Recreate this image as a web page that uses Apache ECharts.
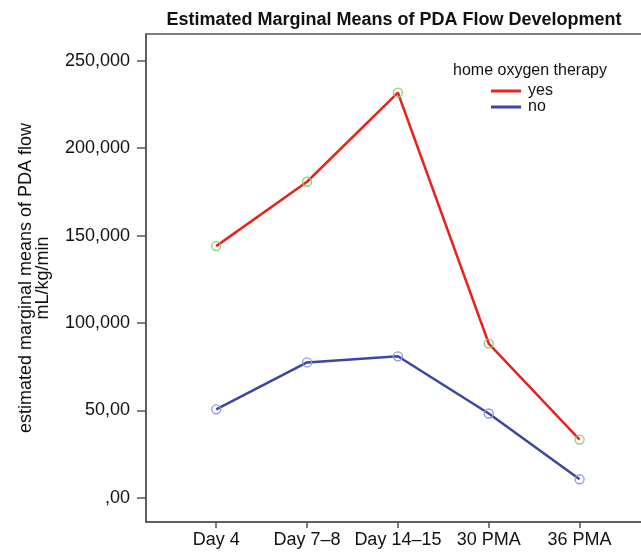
<!DOCTYPE html>
<html>
<head>
<meta charset="utf-8">
<script src="https://cdn.jsdelivr.net/npm/echarts@6/dist/echarts.min.js"></script>
<style>
  html, body { margin: 0; padding: 0; background: #fff; }
  #chart { width: 641px; height: 556px; }
</style>
</head>
<body>
<div id="chart"></div>
<script>
// categories along x (placed at 0..4)
const categories = ['Day 4', 'Day 7\u20138', 'Day 14\u201315', '30 PMA', '36 PMA']
// estimated marginal means
const yesValues = [144000, 180800, 231700, 88300, 33400]
const noValues = [50700, 77500, 81000, 48300, 10700]
// y tick values and their labels as printed
const yTickValues = [0, 50000, 100000, 150000, 200000, 250000]
const yTickLabels = [',00', '50,00', '100,000', '150,000', '200,000', '250,000']

const yesColor = '#e8231d'
const noColor = '#3a46a0'
const axisColor = '#555'

const toPoints = arr => arr.map((v, i) => [i, v])

const chart = echarts.init(document.getElementById('chart'))

const option = {
  animation: false,
  textStyle: { fontFamily: 'Liberation Sans, Arial, sans-serif' },
  title: [
    {
      text: 'Estimated Marginal Means of PDA Flow Development',
      left: 394,
      textAlign: 'center',
      top: 11,
      padding: 0,
      textStyle: { fontSize: 18, fontWeight: 'bold', color: '#111' }
    },
    {
      text: 'home oxygen therapy',
      left: 530,
      textAlign: 'center',
      top: 63,
      padding: 0,
      textStyle: { fontSize: 16, fontWeight: 'normal', color: '#111' }
    }
  ],
  legend: {
    orient: 'vertical',
    left: 491,
    top: 83,
    padding: 0,
    itemWidth: 30,
    itemHeight: 3,
    itemGap: 0,
    icon: 'rect',
    textStyle: { fontSize: 16, color: '#111', lineHeight: 16, padding: [0, 0, 0, 2] },
    data: [
      { name: 'yes', itemStyle: { color: yesColor, borderWidth: 0 } },
      { name: 'no', itemStyle: { color: noColor, borderWidth: 0 } }
    ]
  },
  grid: {
    left: 146,
    top: 34,
    bottom: 34,
    right: -4,
    outerBoundsMode: 'none',
    show: true,
    borderColor: axisColor,
    borderWidth: 1.5
  },
  xAxis: {
    type: 'value',
    min: -0.773,
    max: 4.72,
    splitLine: { show: false },
    axisLine: { show: true, onZero: false, lineStyle: { color: axisColor, width: 1.5 } },
    axisTick: {
      customValues: [0, 1, 2, 3, 4],
      length: 6,
      lineStyle: { color: axisColor, width: 1.5 }
    },
    axisLabel: {
      customValues: [0, 1, 2, 3, 4],
      formatter: v => categories[Math.round(v)],
      fontSize: 18,
      color: '#111',
      margin: 9
    }
  },
  yAxis: {
    type: 'value',
    min: -13730,
    max: 265270,
    name: 'estimated marginal means of PDA flow\nmL/kg/min',
    nameLocation: 'middle',
    nameGap: 94,
    nameTextStyle: { fontSize: 18, color: '#111', lineHeight: 17 },
    splitLine: { show: false },
    axisLine: { show: true, onZero: false, lineStyle: { color: axisColor, width: 1.5 } },
    axisTick: {
      customValues: yTickValues,
      length: 9,
      lineStyle: { color: axisColor, width: 1.5 }
    },
    axisLabel: {
      customValues: yTickValues,
      formatter: v => yTickLabels[yTickValues.indexOf(v)],
      fontSize: 18,
      color: '#111',
      margin: 16
    }
  },
  series: [
    {
      name: 'yes',
      type: 'line',
      data: toPoints(yesValues),
      color: yesColor,
      lineStyle: { color: yesColor, width: 2.5 },
      symbol: 'circle',
      symbolSize: 9,
      itemStyle: { color: 'rgba(255,255,255,0)', borderColor: '#86cf7a', borderWidth: 1.3 },
      z: 3
    },
    {
      name: 'no',
      type: 'line',
      data: toPoints(noValues),
      color: noColor,
      lineStyle: { color: noColor, width: 2.5 },
      symbol: 'circle',
      symbolSize: 9,
      itemStyle: { color: 'rgba(255,255,255,0)', borderColor: '#8e9ad8', borderWidth: 1.3 },
      z: 2
    }
  ]
}

chart.setOption(option)
</script>
</body>
</html>
